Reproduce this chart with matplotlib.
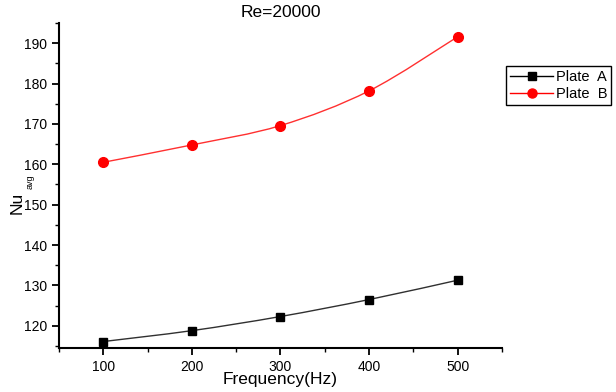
import matplotlib
matplotlib.use("Agg")
import matplotlib.pyplot as plt
from matplotlib.path import Path
from matplotlib.patches import PathPatch
from matplotlib.lines import Line2D
from matplotlib.ticker import MultipleLocator
import numpy as np

plt.rcParams['font.family'] = ['Liberation Sans', 'DejaVu Sans']

freq = [100, 200, 300, 400, 500]
plate_a = [116.1, 118.8, 122.3, 126.5, 131.3]
plate_b = [160.5, 164.8, 169.6, 178.2, 191.6]
x_ticks = [100, 200, 300, 400, 500]
y_ticks = [120, 130, 140, 150, 160, 170, 180, 190]


def smooth_path(x, y):
    # Catmull-Rom through data points rendered as cubic Bezier segments
    x = np.asarray(x, float); y = np.asarray(y, float)
    pts = np.column_stack([x, y])
    verts = [pts[0]]
    codes = [Path.MOVETO]
    n = len(pts)
    for i in range(n - 1):
        p0 = pts[i - 1] if i > 0 else pts[i]
        p1 = pts[i]
        p2 = pts[i + 1]
        p3 = pts[i + 2] if i + 2 < n else pts[i + 1]
        c1 = p1 + (p2 - p0) / 6.0
        c2 = p2 - (p3 - p1) / 6.0
        verts += [c1, c2, p2]
        codes += [Path.CURVE4] * 3
    return Path(verts, codes)


fig = plt.figure(figsize=(6.16, 3.92), dpi=100)
ax = fig.add_axes([59 / 616, 1 - 348 / 392, (502 - 59) / 616, (348 - 23) / 392])

ax.add_patch(PathPatch(smooth_path(freq, plate_a), facecolor='none', edgecolor='#303030', lw=1.0))
ax.add_patch(PathPatch(smooth_path(freq, plate_b), facecolor='none', edgecolor='#ff3030', lw=1.0))
ax.plot(freq, plate_a, ls='none', marker='s', ms=6, color='black')
ax.plot(freq, plate_b, ls='none', marker='o', ms=7, color='red')

ax.set_xlim(50, 550)
ax.set_ylim(114.5, 195)
ax.set_xticks(x_ticks)
ax.set_yticks(y_ticks)
ax.xaxis.set_minor_locator(MultipleLocator(50))
ax.yaxis.set_minor_locator(MultipleLocator(5))
ax.tick_params(which='major', direction='out', length=5, width=1.3, labelsize=10, colors='black')
ax.tick_params(which='minor', direction='out', length=3, width=1.0)
for s in ['top', 'right']:
    ax.spines[s].set_visible(False)
for s in ['left', 'bottom']:
    ax.spines[s].set_linewidth(1.5)

ax.set_title('Re=20000', fontsize=12.5, pad=4)
ax.set_xlabel('Frequency(Hz)', fontsize=12.5, labelpad=-1)

# y label: "Nu" with small subscript "avg"
fig.text(17 / 616, 1 - 203 / 392, 'Nu', rotation=90, fontsize=12.5, ha='center', va='center')
fig.text(30 / 616, 1 - 182 / 392, 'avg', rotation=90, fontsize=6.5, ha='center', va='center')

handles = [Line2D([], [], color='black', marker='s', ms=5.5, lw=1.0),
           Line2D([], [], color='red', marker='o', ms=6.5, lw=1.0)]
leg = fig.legend(handles, ['Plate  A', 'Plate  B'], loc='upper left',
                 bbox_to_anchor=(506 / 616, 1 - 66 / 392), fontsize=10.5,
                 frameon=True, fancybox=False, edgecolor='black', framealpha=1,
                 borderpad=0.25, labelspacing=0.25, handlelength=3.0, handletextpad=0.15,
                 borderaxespad=0)
leg.get_frame().set_linewidth(1.0)

fig.savefig('out.png', dpi=100)
